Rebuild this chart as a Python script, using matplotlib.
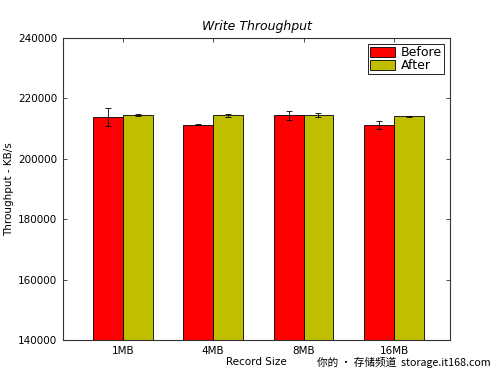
import numpy as np
import matplotlib
matplotlib.use('Agg')
import matplotlib.pyplot as plt

# dados
sizes = ['1MB', '4MB', '8MB', '16MB']
before = [213800, 211300, 214400, 211300]
before_err = [2900, 200, 1400, 1300]
after = [214600, 214400, 214400, 214100]
after_err = [300, 550, 650, 150]
yticks = [140000, 160000, 180000, 200000, 220000, 240000]

ind = np.arange(len(sizes))
width = 0.33

fig = plt.figure(figsize=(5, 3.77), dpi=100)
ax = fig.add_axes([0.126, 0.098, 0.774, 0.801])

b1 = ax.bar(ind, before, width, color='#ff0000', edgecolor='black', linewidth=0.6,
            yerr=before_err, ecolor='black', capsize=2.5, error_kw={'elinewidth': 0.6, 'capthick': 0.6},
            align='edge')
b2 = ax.bar(ind + width, after, width, color='#bfbf00', edgecolor='black', linewidth=0.6,
            yerr=after_err, ecolor='black', capsize=2.5, error_kw={'elinewidth': 0.6, 'capthick': 0.6},
            align='edge')

ax.set_ylim(140000, 240000)
ax.set_xlim(-0.33, 3.95)
ax.set_yticks(yticks)
ax.set_xticks(ind + width)
ax.set_xticklabels(sizes)
ax.tick_params(direction='in', top=True, right=True, labelsize=7.5, length=3, width=0.5, pad=4)
for s in ax.spines.values():
    s.set_linewidth(0.8)
    s.set_color('#333333')

ax.set_title('Write Throughput', fontsize=9, style='italic', pad=6)
ax.set_xlabel('Record Size', fontsize=7.5, labelpad=1)
ax.set_ylabel('Throughput - KB/s', fontsize=7.5, labelpad=3)

leg = ax.legend((b1[0], b2[0]), ('Before', 'After'), loc='upper right', fontsize=9,
                fancybox=False, framealpha=1, edgecolor='black', borderaxespad=0.5,
                handlelength=2.0, handleheight=0.8, handletextpad=0.5, borderpad=0.15,
                labelspacing=0.0)
leg.get_frame().set_linewidth(0.6)

fig.text(0.982, 0.038, '你的 • 存储频道  storage.it168.com', ha='right', va='center',
         fontsize=7.7, family=['Noto Sans CJK SC', 'DejaVu Sans'])

fig.savefig('out.png', dpi=100)
